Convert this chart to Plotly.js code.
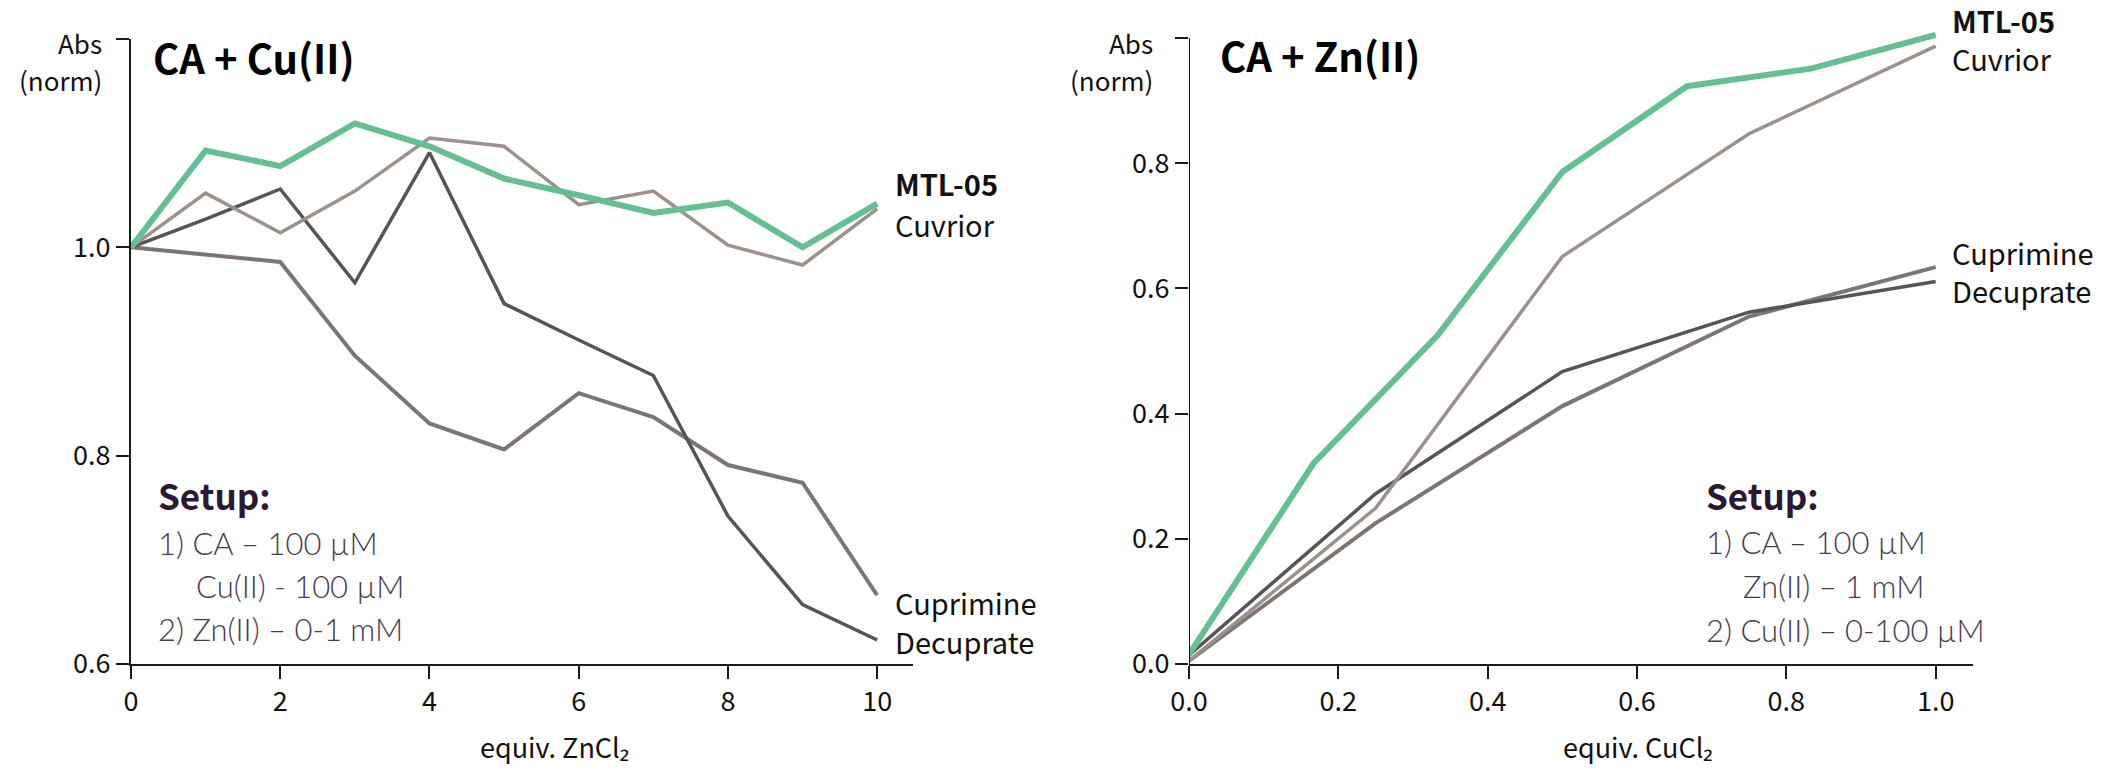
<!DOCTYPE html>
<html>
<head>
<meta charset="utf-8">
<script src="https://cdn.plot.ly/plotly-3.0.1.min.js"></script>
<style>html,body{margin:0;padding:0;background:#fff;}#chart{width:2112px;height:768px;}</style>
</head>
<body>
<div id="chart"></div>
<script>
// ---------- data ----------
const znEquiv = [0, 1, 2, 3, 4, 5, 6, 7, 8, 9, 10];
const cuMTL05 =     [1.000, 1.093, 1.078, 1.119, 1.097, 1.066, 1.050, 1.033, 1.043, 1.000, 1.042];
const cuCuvrior =   [1.000, 1.052, 1.014, 1.054, 1.105, 1.097, 1.041, 1.054, 1.002, 0.983, 1.037];
const cuDecuprate = [1.000, 1.027, 1.056, 0.966, 1.091, 0.946, 0.911, 0.877, 0.742, 0.657, 0.623];
const cuCuprimine = [1.000, 0.993, 0.986, 0.896, 0.831, 0.806, 0.860, 0.837, 0.791, 0.774, 0.666];

const cuEquivMTL = [0, 0.167, 0.333, 0.5, 0.667, 0.833, 1.0];
const znMTL05 =    [0.015, 0.321, 0.525, 0.786, 0.923, 0.951, 1.005];
const cuEquivRef = [0, 0.25, 0.5, 0.75, 1.0];
const znCuvrior =   [0.005, 0.249, 0.651, 0.847, 0.987];
const znDecuprate = [0.014, 0.272, 0.467, 0.562, 0.611];
const znCuprimine = [0.005, 0.225, 0.412, 0.555, 0.634];

const leftTicksX = [0, 2, 4, 6, 8, 10];
const leftTicksY = [0.6, 0.8, 1.0, 1.2];
const leftTickTextY = ['0.6', '0.8', '1.0', ''];
const rightTicksX = [0, 0.2, 0.4, 0.6, 0.8, 1.0];
const rightTickTextX = ['0.0', '0.2', '0.4', '0.6', '0.8', '1.0'];
const rightTicksY = [0, 0.2, 0.4, 0.6, 0.8, 1.0];
const rightTickTextY = ['0.0', '0.2', '0.4', '0.6', '0.8', ''];

const titles = ['CA + Cu(II)', 'CA + Zn(II)'];
const xTitles = ['equiv. ZnCl₂', 'equiv. CuCl₂'];
const setupLeft = ['Setup:', '1) CA – 100 µM', 'Cu(II) - 100 µM', '2) Zn(II) – 0-1 mM'];
const setupRight = ['Setup:', '1) CA – 100 µM', 'Zn(II) – 1 mM', '2) Cu(II) – 0-100 µM'];

// ---------- styles ----------
const W = 2112, H = 768;
const FONT = '"Noto Sans CJK JP", "Source Sans Pro", "Noto Sans", sans-serif';
const LIGHT = 'Lato, "Noto Sans", sans-serif';
const C_GREEN = '#64bf95', C_CUV = '#9c918a', C_DEC = '#555558', C_CUP = '#7c7572';
const AX = '#1a1a1a';
const px = v => v / W, py = v => 1 - v / H;

function tr(x, y, color, width, xa, ya) {
  return {x: x, y: y, type: 'scatter', mode: 'lines', xaxis: xa, yaxis: ya,
    line: {color: color, width: width}, hoverinfo: 'skip', showlegend: false};
}

const traces = [
  tr(znEquiv, cuCuprimine, C_CUP, 4, 'x', 'y'),
  tr(znEquiv, cuDecuprate, C_DEC, 3.5, 'x', 'y'),
  tr(znEquiv, cuCuvrior, C_CUV, 3.5, 'x', 'y'),
  tr(znEquiv, cuMTL05, C_GREEN, 6, 'x', 'y'),
  tr(cuEquivRef, znCuprimine, C_CUP, 4, 'x2', 'y2'),
  tr(cuEquivRef, znDecuprate, C_DEC, 3.5, 'x2', 'y2'),
  tr(cuEquivRef, znCuvrior, C_CUV, 3.5, 'x2', 'y2'),
  tr(cuEquivMTL, znMTL05, C_GREEN, 6, 'x2', 'y2')
];

const tickFont = {family: FONT, size: 27, color: '#111'};
function xax(domain, range, vals, text) {
  return {domain: domain, range: range, tickvals: vals, ticktext: text,
    showline: true, linecolor: AX, linewidth: 2, ticks: 'outside', ticklen: 13,
    tickwidth: 2, tickcolor: AX, showgrid: false, zeroline: false,
    tickfont: tickFont, fixedrange: true};
}
function yax(domain, range, vals, text, anchor, showline) {
  return {domain: domain, range: range, tickvals: vals, ticktext: text, anchor: anchor,
    showline: showline, linecolor: AX, linewidth: 2, ticks: 'outside', ticklen: 13,
    tickwidth: 2, tickcolor: AX, showgrid: false, zeroline: false,
    tickfont: tickFont, fixedrange: true};
}

const yDomL = [1 - 664 / H, 1 - 39 / H];
// right chart: a little headroom above 1.0 so the thick line end is not clipped
const rTopPx = 664 - (664 - 38) * 1.04;
const yDomR = [1 - 664 / H, 1 - rTopPx / H];

function ann(text, x, y, size, opts) {
  return Object.assign({text: text, x: px(x), y: py(y), xref: 'paper', yref: 'paper',
    showarrow: false, xanchor: 'left', yanchor: 'middle', align: 'left',
    font: {family: FONT, size: size, color: '#111'}}, opts || {});
}

const SET_C = '#2b1934', SET_L = '#463a50';
const titleFont = {family: FONT, size: 40, color: '#000', weight: 900};
const setHead = {family: FONT, size: 35, color: SET_C, weight: 900};
const setLine = {family: LIGHT, size: 31, color: SET_L, weight: 300};

const annotations = [
  ann('<b>' + titles[0] + '</b>', 151, 57, 40, {font: titleFont}),
  ann('<b>' + titles[1] + '</b>', 1218, 55, 40, {font: titleFont}),
  ann('Abs', 104, 42, 26, {xanchor: 'right'}),
  ann('(norm)', 104, 80, 26, {xanchor: 'right'}),
  ann('Abs', 1155, 42, 26, {xanchor: 'right'}),
  ann('(norm)', 1155, 80, 26, {xanchor: 'right'}),
  ann(xTitles[0], 554, 746, 27, {xanchor: 'center'}),
  ann(xTitles[1], 1638, 746, 27, {xanchor: 'center'}),
  // series labels
  ann('<b>MTL-05</b>', 893, 183, 29),
  ann('Cuvrior', 893, 224, 29),
  ann('Cuprimine', 893, 602, 29),
  ann('Decuprate', 893, 641, 29),
  ann('<b>MTL-05</b>', 1950, 20, 29),
  ann('Cuvrior', 1950, 58, 29),
  ann('Cuprimine', 1950, 252, 29),
  ann('Decuprate', 1950, 290, 29),
  // setup boxes
  ann('<b>' + setupLeft[0] + '</b>', 156, 494, 35, {font: setHead}),
  ann(setupLeft[1], 156, 543, 31, {font: setLine}),
  ann(setupLeft[2], 194, 586, 31, {font: setLine}),
  ann(setupLeft[3], 156, 629, 31, {font: setLine}),
  ann('<b>' + setupRight[0] + '</b>', 1704, 494, 35, {font: setHead}),
  ann(setupRight[1], 1704, 542, 31, {font: setLine}),
  ann(setupRight[2], 1741, 586, 31, {font: setLine}),
  ann(setupRight[3], 1704, 630, 31, {font: setLine})
];

const layout = {
  width: W, height: H, margin: {l: 0, r: 0, t: 0, b: 0},
  paper_bgcolor: '#fff', plot_bgcolor: 'rgba(0,0,0,0)',
  showlegend: false, font: {family: FONT},
  xaxis: xax([131 / W, 913 / W], [0, 10.48], leftTicksX, leftTicksX.map(String)),
  yaxis: yax(yDomL, [0.6, 1.2], leftTicksY, leftTickTextY, 'x', true),
  xaxis2: Object.assign(xax([1189 / W, 1973 / W], [0, 1.05], rightTicksX, rightTickTextX), {anchor: 'y2'}),
  yaxis2: yax(yDomR, [0, 1.04], rightTicksY, rightTickTextY, 'x2', false),
  shapes: [
    {type: 'line', xref: 'x2', yref: 'y2', x0: 0, x1: 0, y0: 0, y1: 1.0,
     line: {color: AX, width: 2}}
  ],
  annotations: annotations
};

Plotly.newPlot('chart', traces, layout, {staticPlot: true, displayModeBar: false});
</script>
</body>
</html>
